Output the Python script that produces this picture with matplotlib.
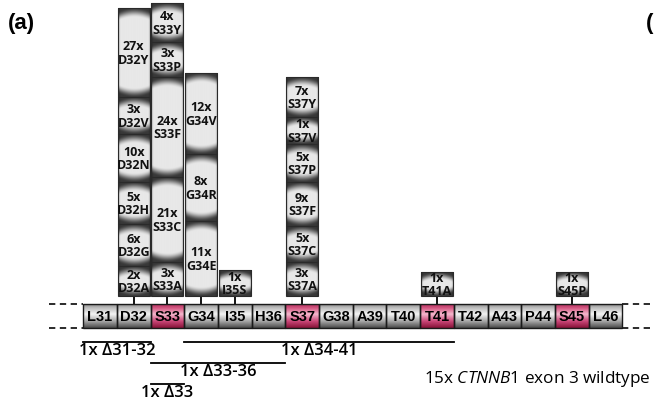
import numpy as np
import matplotlib
matplotlib.use("Agg")
import matplotlib.pyplot as plt
from matplotlib.patches import Rectangle
from matplotlib.colors import to_rgb

# ---------------- data ----------------
residues = ["L31", "D32", "S33", "G34", "I35", "H36", "S37", "G38",
            "A39", "T40", "T41", "T42", "A43", "P44", "S45", "L46"]
residue_numbers = list(range(31, 47))
phospho_sites = ["S33", "S37", "T41", "S45"]

# point mutations per residue (bottom to top): counts and labels
d32_counts = [2, 6, 5, 10, 3, 27]
d32_labels = ["D32A", "D32G", "D32H", "D32N", "D32V", "D32Y"]
s33_counts = [3, 21, 24, 3, 4]
s33_labels = ["S33A", "S33C", "S33F", "S33P", "S33Y"]
g34_counts = [11, 8, 12]
g34_labels = ["G34E", "G34R", "G34V"]
i35_counts = [1]
i35_labels = ["I35S"]
s37_counts = [3, 5, 9, 5, 1, 7]
s37_labels = ["S37A", "S37C", "S37F", "S37P", "S37V", "S37Y"]
t41_counts = [1]
t41_labels = ["T41A"]
s45_counts = [1]
s45_labels = ["S45P"]

# in-frame deletions: count, first residue, last residue
del_counts = [1, 1, 1, 1]
del_start = [31, 34, 33, 33]
del_end = [32, 41, 36, 33]
wildtype_count = 15

# ---------------- layout (not data) ----------------
box_heights = {  # pixel heights of boxes, bottom to top
    32: [30, 42, 42, 48, 37, 89],
    33: [34, 85, 100, 35, 39],
    34: [75, 67, 81],
    35: [26],
    37: [34, 36, 44, 38, 27, 40],
    41: [24],
    45: [24],
}
del_rows_y = [63, 63, 42, 21]

stacks = {32: (d32_counts, d32_labels), 33: (s33_counts, s33_labels),
          34: (g34_counts, g34_labels), 35: (i35_counts, i35_labels),
          37: (s37_counts, s37_labels), 41: (t41_counts, t41_labels),
          45: (s45_counts, s45_labels)}

W, H = 654, 406
PX = 33.7  # pixels per residue
fig = plt.figure(figsize=(W / 100, H / 100), dpi=100)
ax = fig.add_axes([0, 0, 1, 1])
x_left = 31 - 100 / PX
ax.set_xlim(x_left, x_left + W / PX)
ax.set_ylim(0, H)
ax.axis("off")

box_font = ["Open Sans", "DejaVu Sans"]
txt_font = ["Open Sans", "DejaVu Sans"]

bar_y0, bar_y1 = 77, 101
stack_y0 = 109


def smoothstep(t):
    t = np.clip(t, 0, 1)
    return t * t * (3 - 2 * t)


def box_image(wpx, hpx):
    sc = 3
    nx, ny = int(wpx * sc), int(hpx * sc)
    x = (np.arange(nx) + 0.5) / sc
    y = (np.arange(ny) + 0.5) / sc
    X, Y = np.meshgrid(x, y)
    u = (X - wpx / 2) / (wpx / 2)
    d = np.minimum(Y, hpx - Y)
    band = min(10.0, hpx / 3.0)
    eff = d - 4.0 * u ** 2 + 0.5
    b = 0.22 + 0.69 * smoothstep(eff / band)
    side = np.clip((np.abs(u) - 0.85) / 0.15, 0, 1)
    b = b * (1 - 0.3 * side)
    return b


def vgrad(stops, colors, n=60):
    t = np.linspace(0, 1, n)
    cols = np.array([to_rgb(c) for c in colors])
    out = np.zeros((n, 1, 3))
    for k in range(3):
        out[:, 0, k] = np.interp(t, stops, cols[:, k])
    return out


gray_img = vgrad([0, 0.15, 0.42, 0.72, 1.0],
                 ["#8a8a8a", "#bdbdbd", "#f4f4f4", "#a6a6a6", "#4a4a4a"])
pink_img = vgrad([0, 0.15, 0.42, 0.72, 1.0],
                 ["#b0305f", "#d2557f", "#f5b8cd", "#c94677", "#861338"])

# residue bar
for name, num in zip(residues, residue_numbers):
    img = pink_img if name in phospho_sites else gray_img
    ax.imshow(img, extent=(num - 0.5, num + 0.5, bar_y0, bar_y1),
              origin="upper", aspect="auto", interpolation="bilinear", zorder=1)
    ax.add_patch(Rectangle((num - 0.5, bar_y0), 1, bar_y1 - bar_y0, fill=False,
                           ec="#1a1a1a", lw=1.0, zorder=2))
    ax.text(num, (bar_y0 + bar_y1) / 2, name, ha="center", va="center",
            fontsize=10.5, fontweight="bold", family=["Liberation Sans", "DejaVu Sans"],
            color="black", zorder=3)

# dashed continuation lines
first, last = residue_numbers[0] - 0.5, residue_numbers[-1] + 0.5
for yy in (bar_y0, bar_y1):
    ax.plot([first - 1.0, first], [yy, yy], ls=(0, (3.5, 2.5)), color="#1a1a1a",
            lw=1.3, zorder=2)
    ax.plot([last, last + 1.0], [yy, yy], ls=(0, (3.5, 2.5)), color="#1a1a1a",
            lw=1.3, zorder=2)

# mutation stacks
bw = 0.95
for num, (counts, labels) in stacks.items():
    ax.plot([num, num], [bar_y1, stack_y0], color="black", lw=1.3, zorder=1)
    y = stack_y0
    for c, lab, h in zip(counts, labels, box_heights[num]):
        img = box_image(bw * PX, h)
        ax.imshow(img, extent=(num - bw / 2, num + bw / 2, y, y + h), cmap="gray",
                  vmin=0, vmax=1, origin="lower", aspect="auto",
                  interpolation="bilinear", zorder=2)
        ax.add_patch(Rectangle((num - bw / 2, y), bw, h, fill=False, ec="#2a2a2a",
                               lw=0.8, zorder=3))
        ax.text(num, y + h / 2, f"{c}x\n{lab}", ha="center", va="center",
                fontsize=9, fontweight="bold", family=box_font,
                linespacing=1.05, color="#111111", zorder=4)
        y += h

# deletions
for c, s, e, yy in zip(del_counts, del_start, del_end, del_rows_y):
    ax.plot([s - 0.5, e + 0.5], [yy, yy], color="black", lw=1.3)
    lab = f"{c}x Δ{s}" if s == e else f"{c}x Δ{s}-{e}"
    ax.text((s + e) / 2, yy - 0.5, lab, ha="center", va="top", fontsize=12,
            fontweight="semibold", family=txt_font, color="black")

plt.rcParams["mathtext.fontset"] = "custom"
plt.rcParams["mathtext.it"] = "Open Sans:italic"
plt.rcParams["mathtext.rm"] = "Open Sans"
ax.text(x_left + 651 / PX, 27, f"{wildtype_count}x $\\it{{CTNNB1}}$ exon 3 wildtype",
        ha="right", va="center", fontsize=12.3, family=txt_font, color="black")

ax.text(x_left + 8 / PX, 383, "(a)", ha="left", va="center", fontsize=16,
        fontweight="bold", family=["Liberation Sans", "DejaVu Sans"])
ax.text(x_left + 646 / PX, 383, "(", ha="left", va="center", fontsize=16,
        fontweight="bold", family=["Liberation Sans", "DejaVu Sans"])

fig.savefig("out.png", dpi=100)
